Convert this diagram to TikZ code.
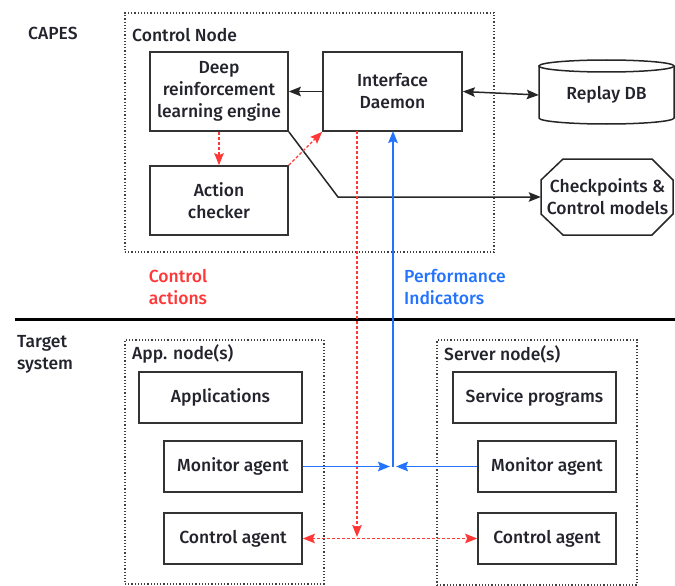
\documentclass[tikz,border=0pt]{standalone}
\usepackage{fontspec}
\setmainfont{Fira Sans}[UprightFont={* Medium}]
\usetikzlibrary{arrows.meta}
\definecolor{cred}{RGB}{255,55,55}
\definecolor{cblue}{RGB}{35,115,255}
\definecolor{ctext}{RGB}{35,35,45}
\begin{document}
\begin{tikzpicture}[x=1pt,y=-1pt,
  font=\fontsize{17.5}{22}\selectfont,
  box/.style={draw=black!80, line width=1.7pt, text=ctext, align=center, inner sep=0pt},
  group/.style={draw=black!75, dotted, line width=1.2pt, inner sep=0pt},
  lbl/.style={text=ctext, inner sep=0pt, align=left, anchor=west},
  blk/.style={draw=black!85, line width=1.5pt},
  redarr/.style={draw=cred, dash pattern=on 3pt off 2pt, line width=1.4pt},
  bluearr/.style={draw=cblue, line width=1.9pt},
  tip/.style={-{Stealth[length=12pt,width=9.5pt,inset=2pt]}},
  tips/.style={{Stealth[length=12pt,width=9.5pt,inset=2pt]}-{Stealth[length=12pt,width=9.5pt,inset=2pt]}}]
\useasboundingbox (0,0) rectangle (675,586);

% groups
\node[group, minimum width=369pt, minimum height=239pt] (cn) at (309.5,132.5) {};
\node[group, minimum width=199pt, minimum height=244pt] (app) at (224.5,462) {};
\node[group, minimum width=200pt, minimum height=245pt] (srv) at (537,462.5) {};

% labels
\node[lbl] (capes) at (28,33) {CAPES};
\node[lbl] (cnl) at (132,35) {Control Node};
\node[lbl] (tgt) at (17,354) {Target\\system};
\node[lbl] (appl) at (132,354) {App. node(s)};
\node[lbl] (srvl) at (444,354) {Server node(s)};
\node[inner sep=0pt, text=cred, align=center] (ca) at (178,287) {Control\\actions};
\node[lbl, text=cblue] (pi) at (404,287) {Performance\\Indicators};

% control node boxes
\node[box, minimum width=138pt, minimum height=79pt] (drl) at (219,91.5) {Deep\\reinforcement\\learning engine};
\node[box, minimum width=138pt, minimum height=69pt] (ac) at (219,200.5) {Action\\checker};
\node[box, minimum width=139pt, minimum height=79pt] (iface) at (392.5,91.5) {Interface\\Daemon};

% Replay DB cylinder
\node[inner sep=0pt, text=ctext, minimum width=135pt, minimum height=58pt] (db) at (606.5,95) {Replay DB};
\draw[blk, line width=1.5pt] (606.5,66) ellipse[x radius=67.5pt, y radius=6pt];
\draw[blk, line width=1.5pt] (539,66) -- (539,118) arc[start angle=180, end angle=360, x radius=67.5pt, y radius=6pt] -- (674,66);

% Checkpoints octagon
\node[inner sep=0pt, text=ctext, align=center, minimum width=133pt, minimum height=76pt] (ck) at (607.5,197) {Checkpoints \&\\Control models};
\draw[blk, line width=1.5pt] (563,159) -- (652,159) -- (673,180) -- (673,214) -- (652,235) -- (563,235) -- (541,214) -- (541,180) -- cycle;

% target boxes
\node[box, minimum width=163pt, minimum height=51pt] (apps) at (220.5,397.5) {Applications};
\node[box, minimum width=138pt, minimum height=51pt] (appmon) at (233,466.5) {Monitor agent};
\node[box, minimum width=138pt, minimum height=51pt] (appctl) at (233,538.5) {Control agent};
\node[box, minimum width=163pt, minimum height=51pt] (svc) at (534.5,397.5) {Service programs};
\node[box, minimum width=138pt, minimum height=51pt] (srvmon) at (547,466.5) {Monitor agent};
\node[box, minimum width=138pt, minimum height=51pt] (srvctl) at (547,538.5) {Control agent};

% separator
\coordinate (sepl) at (15,319);
\coordinate (sepr) at (675,319);
\draw[line width=3pt, black] (sepl) -- (sepr);

% black connectors
\draw[blk, tip] (iface.west) -- (drl.east);
\draw[blk, tips] (iface.east) -- (db.west);
\coordinate (bend) at (338,197);
\draw[blk, tip] (drl.south east) -- (bend) -- (ck.west);

% red connectors
\draw[redarr, tip] (drl.south) -- (ac.north);
\draw[redarr, tip] (ac.north east) -- (iface.south west);
\coordinate (ctop) at (357,131);
\coordinate (cjoin) at (357,537);
\draw[redarr, tip] (ctop) -- (cjoin);
\draw[redarr, tips] (appctl.east) -- (srvctl.west);

% blue connectors
\coordinate (btop) at (393,131);
\coordinate (bjoin) at (393,466.5);
\coordinate (bl) at (390,466.5);
\coordinate (br) at (396,466.5);
\draw[bluearr, tip] (bjoin) -- (btop);
\draw[bluearr, tip] (appmon.east) -- (bl);
\draw[bluearr, tip] (srvmon.west) -- (br);
\end{tikzpicture}
\end{document}
